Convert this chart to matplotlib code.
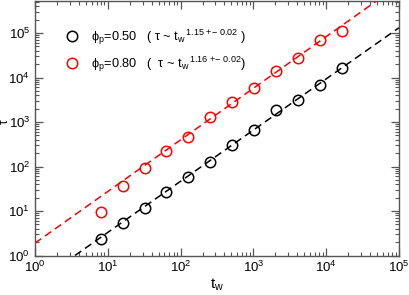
import matplotlib
matplotlib.use("Agg")
import matplotlib.pyplot as plt
import numpy as np
from matplotlib.ticker import LogLocator, NullFormatter

plt.rcParams['font.family'] = ['Liberation Sans', 'DejaVu Sans']
plt.rcParams['mathtext.fontset'] = 'custom'
plt.rcParams['mathtext.rm'] = 'Liberation Sans'
plt.rcParams['mathtext.it'] = 'Liberation Sans'
plt.rcParams['mathtext.bf'] = 'Liberation Sans:bold'

tw = [8, 16, 32, 64, 128, 256, 512, 1024, 2048, 4096, 8192, 16384]
tau_050 = [2.4, 5.4, 11.8, 26.5, 57.5, 125, 310, 675, 1830, 3150, 6700, 16300]
tau_080 = [9.7, 36, 92, 218, 470, 1280, 2780, 5850, 14100, 27800, 70000, 110000]
fit_exp = [1.15, 1.16]
fit_pref = [0.234, 1.9]
labels = [r'ϕ$_\mathregular{p}$=0.50   ( τ ~ t$_\mathregular{w}$$^{\mathregular{\,1.15\,+\!\!-\,0.02}}$ )',
          r'ϕ$_\mathregular{p}$=0.80   (  τ ~ t$_\mathregular{w}$$^{\mathregular{\,1.16\,+\!\!-\,0.02}}$)']
colors = ['black', 'red']

fig = plt.figure(figsize=(4.09, 2.95), dpi=100)
ax = fig.add_axes([35/409, 1 - 255.5/295, 364/409, 254.5/295])

xfit = np.logspace(0, 5, 200)
for ser, a, e, c, lab in zip([tau_050, tau_080], fit_pref, fit_exp, colors, labels):
    ax.plot(tw, ser, 'o', mfc='none', mec=c, ms=7.5, mew=1.1, label=lab, linestyle='none')
    ax.plot(xfit, a * xfit ** e, '--', color=c, lw=1.1, dashes=(5, 3))

ax.set_xscale('log')
ax.set_yscale('log')
ax.set_xlim(1, 1e5)
ax.set_ylim(1, 10 ** 5.72)

ax.xaxis.set_major_locator(LogLocator(base=10, numticks=10))
ax.yaxis.set_major_locator(LogLocator(base=10, numticks=10))
ax.xaxis.set_minor_locator(LogLocator(base=10, subs=np.arange(2, 10), numticks=20))
ax.yaxis.set_minor_locator(LogLocator(base=10, subs=np.arange(2, 10), numticks=20))
ax.xaxis.set_minor_formatter(NullFormatter())
ax.yaxis.set_minor_formatter(NullFormatter())

for s in ax.spines.values():
    s.set_color('#555555')
    s.set_linewidth(1.0)
ax.tick_params(which='both', direction='in', top=True, right=True, color='#555555', labelsize=9.5)
ax.tick_params(which='major', length=6, width=0.9)
ax.tick_params(which='minor', length=3, width=0.8)
ax.tick_params(axis='x', pad=3)

ax.set_xlabel(r't$_\mathregular{w}$', fontsize=11, labelpad=1)
fig.text(4.8/409, 1 - 122/295, 'τ', rotation=90, ha='center', va='center', fontsize=8.5)

leg = ax.legend(loc='upper left', bbox_to_anchor=(0.07, 0.915), frameon=False, fontsize=9.2,
                handletextpad=0.95, labelspacing=0.6, handlelength=1.0, borderaxespad=0)

fig.savefig('out.png', dpi=100)
